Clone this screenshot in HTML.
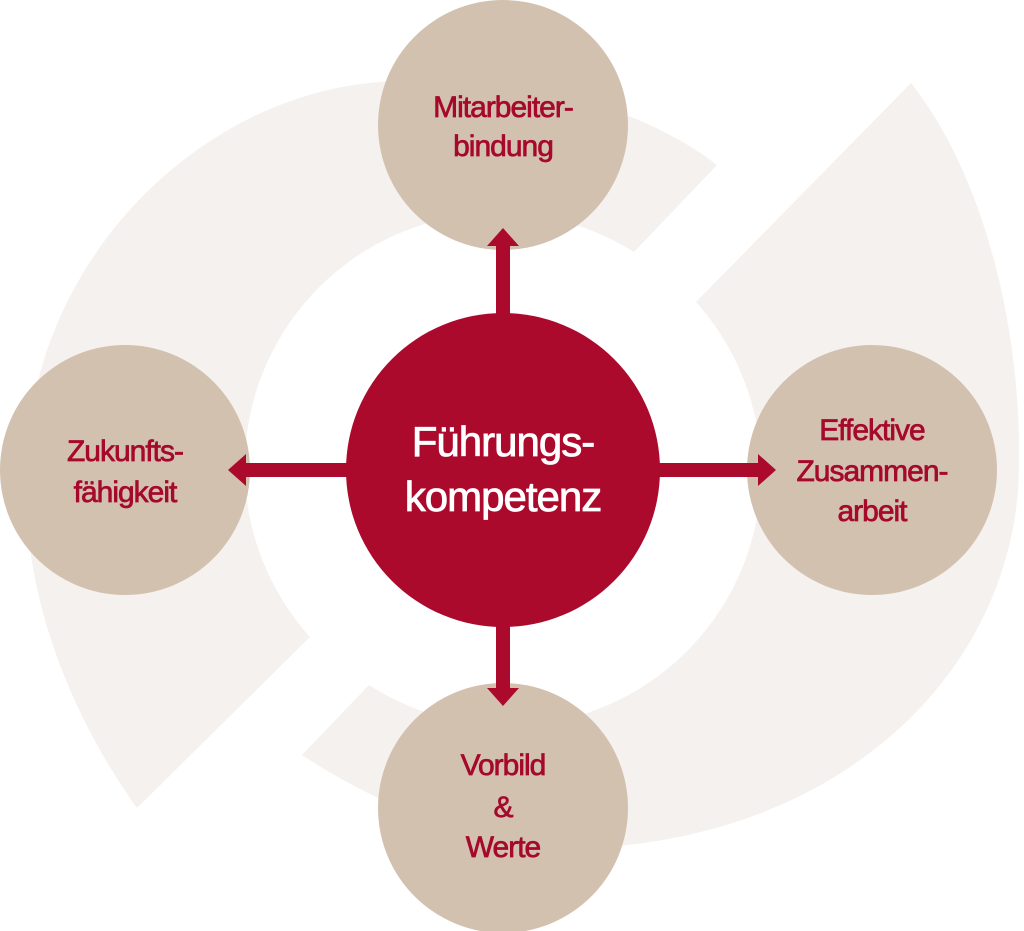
<!DOCTYPE html>
<html><head><meta charset="utf-8"><style>
html,body{margin:0;padding:0;background:#fff;}
svg{display:block}
text{font-family:"Liberation Sans",sans-serif;}
</style></head><body>
<svg width="1024" height="931" viewBox="0 0 1024 931" xmlns="http://www.w3.org/2000/svg">
<path fill="#f5f1ee" d="M137,808 C60,700 22,580 26,470 C30,260 200,95 380,82 C470,72 620,90 717,165 L634,252 A254,254 0 0,0 310,637 Z"/>
<path fill="#f5f1ee" d="M911,83 C980,170 1022,320 1019,470 C1015,660 860,820 627,845 C520,858 400,820 302,755 L369,685 A254,254 0 0,0 696,302 Z"/>
<g fill="#d3c1b0">
<circle cx="503" cy="125" r="125"/>
<circle cx="125" cy="470" r="125"/>
<circle cx="872" cy="470" r="125"/>
<circle cx="503" cy="808" r="125"/>
</g>
<circle cx="503" cy="470" r="157" fill="#ab0a2d"/>
<g fill="#ab0a2d">
<rect x="496" y="243" width="14" height="80"/>
<polygon points="487,246 519,246 503,228"/>
<rect x="496" y="620" width="14" height="72"/>
<polygon points="487,688 519,688 503,706"/>
<rect x="245" y="463" width="110" height="14"/>
<polygon points="246,454 246,486 228,470"/>
<rect x="650" y="463" width="110" height="14"/>
<polygon points="758,454 758,486 776,470"/>
</g>
<g fill="#fff" stroke="#fff" stroke-width="0.8" font-size="42" text-anchor="middle" letter-spacing="-1">
<text x="503" y="456">Führungs-</text>
<text x="503" y="511">kompetenz</text>
</g>
<g fill="#a5092b" stroke="#a5092b" stroke-width="0.7" font-size="30" text-anchor="middle" letter-spacing="-1">
<text x="503" y="117">Mitarbeiter-</text>
<text x="503" y="156">bindung</text>
<text x="125" y="461">Zukunfts-</text>
<text x="125" y="502">fähigkeit</text>
<text x="872" y="440">Effektive</text>
<text x="872" y="481">Zusammen-</text>
<text x="872" y="521">arbeit</text>
<text x="503" y="775">Vorbild</text>
<text x="503" y="817">&amp;</text>
<text x="503" y="857">Werte</text>
</g>
</svg>
</body></html>
